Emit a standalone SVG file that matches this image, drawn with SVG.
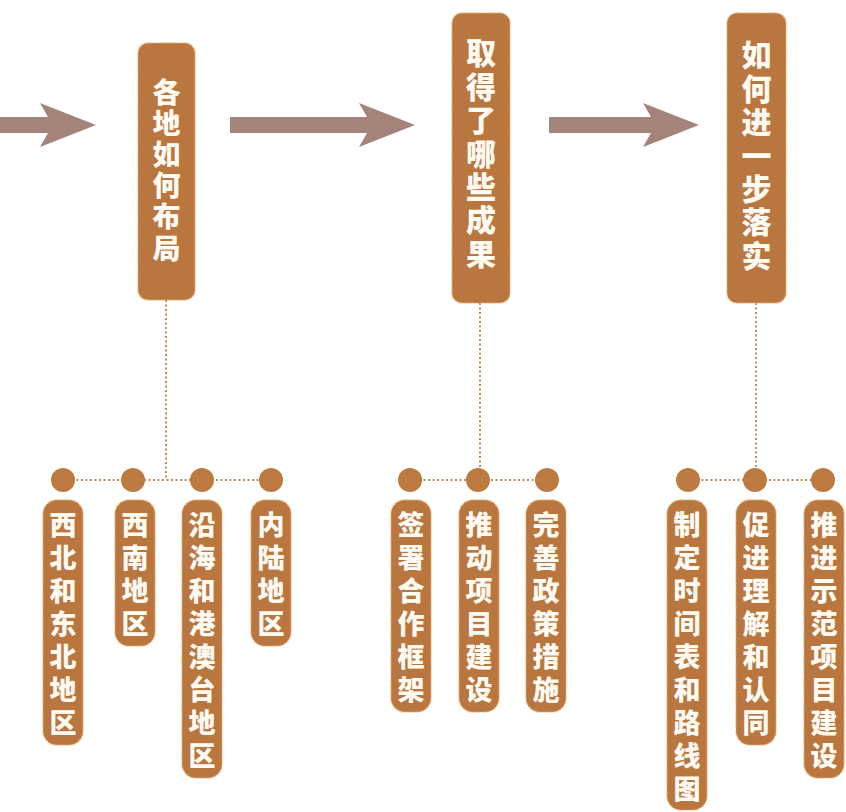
<svg xmlns="http://www.w3.org/2000/svg" width="846" height="812" viewBox="0 0 846 812">
<style>
.box{fill:#b9763f;stroke:#e3a868;stroke-width:1.5;stroke-dasharray:1.2 1.2}
.t{font-family:"Noto Sans CJK SC","Noto Sans",sans-serif;font-weight:900;fill:#fffaf2;writing-mode:vertical-rl;text-orientation:upright}
.h1{font-size:28px;letter-spacing:3.2px}
.h2{font-size:30px;letter-spacing:3.4px}
.b{font-size:27px;letter-spacing:6px}
.arrow{fill:#a3837a}
.dot{fill:none;stroke:#c48a52;stroke-width:2;stroke-dasharray:2 2.5}
.node{fill:#bd7a40}
</style>
<rect width="846" height="812" fill="#ffffff"/>
<g id="connectors">
<polygon class="arrow" points="0,117 48,117 40,103 96,125 40,147 48,133 0,133"/>
<polygon class="arrow" points="230,117 367,117 359,103 415,125 359,147 367,133 230,133"/>
<polygon class="arrow" points="549,117 651,117 643,103 699,125 643,147 651,133 549,133"/>
<path class="dot" d="M166,300 V480 M63,480 H271"/>
<path class="dot" d="M480,303 V480 M410,480 H547"/>
<path class="dot" d="M756,303 V480 M688,480 H823"/>
<circle class="node" cx="63" cy="480" r="12"/>
<circle class="node" cx="133" cy="480" r="12"/>
<circle class="node" cx="202" cy="480" r="12"/>
<circle class="node" cx="271" cy="480" r="12"/>
<circle class="node" cx="410" cy="480" r="12"/>
<circle class="node" cx="478" cy="480" r="12"/>
<circle class="node" cx="547" cy="480" r="12"/>
<circle class="node" cx="688" cy="480" r="12"/>
<circle class="node" cx="755" cy="480" r="12"/>
<circle class="node" cx="823" cy="480" r="12"/>
</g>
<g id="header1">
<rect class="box" x="138" y="43" width="57" height="257" rx="10"/>
<text class="t h1" x="166.5" y="78">各地如何布局</text>
</g>
<g id="header2">
<rect class="box" x="452" y="13" width="58" height="290" rx="10"/>
<text class="t h2" x="481" y="38">取得了哪些成果</text>
</g>
<g id="header3">
<rect class="box" x="727" y="13" width="59" height="290" rx="10"/>
<text class="t h2" x="756.5" y="40">如何进一步落实</text>
</g>
<g id="n1">
<rect class="box" x="43" y="500" width="40" height="245" rx="14"/>
<text class="t b" x="63" y="511.5">西北和东北地区</text>
</g>
<g id="n2">
<rect class="box" x="115" y="500" width="40" height="146" rx="14"/>
<text class="t b" x="135" y="511.5">西南地区</text>
</g>
<g id="n3">
<rect class="box" x="182" y="500" width="40" height="278" rx="14"/>
<text class="t b" x="202" y="511.5">沿海和港澳台地区</text>
</g>
<g id="n4">
<rect class="box" x="251" y="500" width="40" height="146" rx="14"/>
<text class="t b" x="271" y="511.5">内陆地区</text>
</g>
<g id="n5">
<rect class="box" x="391" y="500" width="40" height="212" rx="14"/>
<text class="t b" x="411" y="511.5">签署合作框架</text>
</g>
<g id="n6">
<rect class="box" x="459" y="500" width="40" height="212" rx="14"/>
<text class="t b" x="479" y="511.5">推动项目建设</text>
</g>
<g id="n7">
<rect class="box" x="526" y="500" width="40" height="212" rx="14"/>
<text class="t b" x="546" y="511.5">完善政策措施</text>
</g>
<g id="n8">
<rect class="box" x="667" y="500" width="40" height="310" rx="14"/>
<text class="t b" x="687" y="511.5">制定时间表和路线图</text>
</g>
<g id="n9">
<rect class="box" x="736" y="500" width="40" height="245" rx="14"/>
<text class="t b" x="756" y="511.5">促进理解和认同</text>
</g>
<g id="n10">
<rect class="box" x="804" y="500" width="40" height="278" rx="14"/>
<text class="t b" x="824" y="511.5">推进示范项目建设</text>
</g>
</svg>
